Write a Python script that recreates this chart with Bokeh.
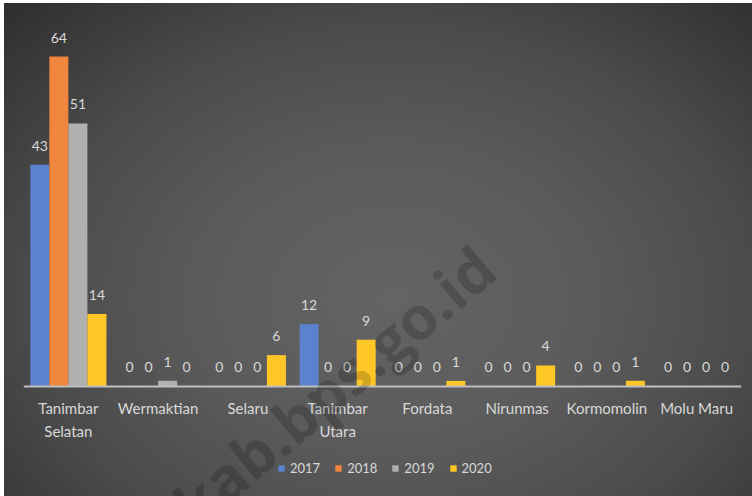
from bokeh.plotting import figure
from bokeh.models import (ColumnDataSource, FactorRange, Range1d, Legend, LegendItem,
                          Label, CategoricalAxis, CustomJSTickFormatter)
from bokeh.transform import dodge
from bokeh.core.properties import value
from bokeh.embed import file_html
from bokeh.resources import INLINE

# ---- data ----
districts = ["Tanimbar Selatan", "Wermaktian", "Selaru", "Tanimbar Utara",
             "Fordata", "Nirunmas", "Kormomolin", "Molu Maru"]
tick_line1 = ["Tanimbar", "Wermaktian", "Selaru", "Tanimbar",
              "Fordata", "Nirunmas", "Kormomolin", "Molu Maru"]
tick_line2 = ["Selatan", "", "", "Utara", "", "", "", ""]
years = ["2017", "2018", "2019", "2020"]
v2017 = [43, 0, 0, 12, 0, 0, 0, 0]
v2018 = [64, 0, 0, 0, 0, 0, 0, 0]
v2019 = [51, 1, 0, 0, 0, 0, 0, 0]
v2020 = [14, 0, 6, 9, 1, 4, 1, 0]

colors = ["#5a82cf", "#f0853d", "#b0b0b0", "#ffc726"]
offsets = [-0.318, -0.106, 0.106, 0.318]
bar_w = 0.212
txt_col = "#d9d9d9"
font = "Lato"

data = dict(district=districts)
for yr, vals in zip(years, [v2017, v2018, v2019, v2020]):
    data[yr] = vals
    data[yr + "_lbl"] = [str(v) for v in vals]
src = ColumnDataSource(data)

p = figure(x_range=FactorRange(*districts), y_range=Range1d(-21.46, 74.30),
           width=748, height=493, output_backend="svg", toolbar_location=None,
           y_axis_location=None, x_axis_location=None,
           min_border_left=19, min_border_right=11,
           min_border_top=0, min_border_bottom=0)
p.styles = {"background": "radial-gradient(farthest-corner at 52% 60%, #646464 0%, #5b5b5b 35%, #4b4b4b 65%, #2e2e2e 100%)",
            "margin": "3px 0px 0px 4px"}
p.background_fill_alpha = 0
p.border_fill_alpha = 0
p.outline_line_color = None
p.xgrid.visible = False
p.ygrid.visible = False

renderers = []
for yr, c, off in zip(years, colors, offsets):
    r = p.vbar(x=dodge("district", off, range=p.x_range), top=yr, width=bar_w,
               source=src, fill_color=c, line_color=None)
    renderers.append(r)
    p.text(x=dodge("district", off, range=p.x_range), y=yr, text=yr + "_lbl",
           source=src, text_align="center", text_baseline="alphabetic",
           y_offset=-19, text_color=txt_col, text_font=value(font),
           text_font_size="14px")

def style_axis(ax, labels, standoff, line):
    ax.fixed_location = 0
    ax.axis_line_color = "#bfbfbf" if line else None
    ax.axis_line_width = 2
    ax.major_tick_line_color = None
    ax.minor_tick_line_color = None
    ax.major_label_text_color = txt_col
    ax.major_label_text_font = font
    ax.major_label_text_font_size = "15px"
    ax.major_label_standoff = standoff
    ax.formatter = CustomJSTickFormatter(args=dict(m=dict(zip(districts, labels))),
                                         code="const v = m[tick]; return (v === undefined) ? tick : v;")

ax1 = CategoricalAxis()
style_axis(ax1, tick_line1, 7, True)
p.add_layout(ax1, "below")
ax2 = CategoricalAxis()
style_axis(ax2, tick_line2, 30, False)
p.add_layout(ax2, "below")

legend = Legend(items=[LegendItem(label=yr, renderers=[r]) for yr, r in zip(years, renderers)],
                orientation="horizontal", location=(254, 20),
                background_fill_alpha=0, border_line_color=None,
                label_text_color=txt_col, label_text_font=font,
                label_text_font_size="13px", glyph_width=8, glyph_height=8,
                label_height=16, label_standoff=5, spacing=14, padding=0, margin=0)
p.add_layout(legend, "center")

wm = Label(x=462, y=238, x_units="screen", y_units="screen", text="kab.bps.go.id",
           angle=40, angle_units="deg", text_align="right", text_baseline="middle",
           text_font="Open Sans", text_font_style="bold", text_font_size="60px",
           text_color="black", text_alpha=0.18)
p.add_layout(wm)

open("out.html", "w").write(file_html(p, INLINE))
